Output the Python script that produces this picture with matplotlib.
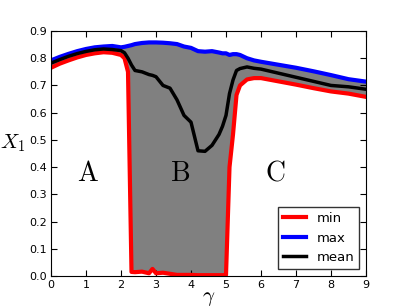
import matplotlib
matplotlib.use("Agg")
from matplotlib import pyplot as plt

# gamma grid (non-uniform, denser where the curves jump)
gamma = [0, 0.25, 0.5, 0.75, 1.0, 1.25, 1.5, 1.75, 2.0, 2.1, 2.2, 2.3, 2.4, 2.6,
         2.8, 2.9, 3.0, 3.2, 3.4, 3.6, 3.8, 4.0, 4.2, 4.4, 4.6, 4.8, 4.9, 5.0,
         5.1, 5.2, 5.3, 5.4, 5.6, 5.8, 6.0, 6.5, 7.0, 7.5, 8.0, 8.5, 9.0]

x_min = [0.765, 0.780, 0.792, 0.803, 0.812, 0.818, 0.822, 0.820, 0.812, 0.800,
         0.750, 0.015, 0.014, 0.016, 0.010, 0.026, 0.010, 0.012, 0.008, 0.004,
         0.004, 0.004, 0.003, 0.003, 0.003, 0.003, 0.003, 0.004, 0.400, 0.520,
         0.665, 0.700, 0.722, 0.727, 0.727, 0.715, 0.703, 0.690, 0.678, 0.670,
         0.658]

x_max = [0.792, 0.805, 0.816, 0.826, 0.834, 0.840, 0.843, 0.845, 0.840, 0.842,
         0.845, 0.848, 0.852, 0.856, 0.858, 0.858, 0.858, 0.857, 0.855, 0.852,
         0.843, 0.838, 0.826, 0.824, 0.826, 0.821, 0.818, 0.818, 0.812, 0.815,
         0.815, 0.812, 0.800, 0.792, 0.787, 0.776, 0.765, 0.752, 0.738, 0.723,
         0.714]

x_mean = [0.782, 0.795, 0.807, 0.817, 0.825, 0.831, 0.834, 0.832, 0.828, 0.820,
          0.800, 0.775, 0.755, 0.750, 0.740, 0.737, 0.732, 0.700, 0.690, 0.647,
          0.590, 0.565, 0.460, 0.458, 0.480, 0.520, 0.550, 0.590, 0.670, 0.720,
          0.755, 0.762, 0.768, 0.763, 0.760, 0.745, 0.730, 0.715, 0.700, 0.695,
          0.686]

plt.rcParams["mathtext.fontset"] = "cm"

fig = plt.figure(figsize=(4.07, 3.07), dpi=100)
ax = fig.add_axes([0.1253, 0.101, 0.774, 0.798])

ax.fill_between(gamma, x_min, x_max, color="#808080", lw=0)
ax.plot(gamma, x_min, color="red", lw=3, label="min")
ax.plot(gamma, x_max, color="blue", lw=3, label="max")
ax.plot(gamma, x_mean, color="black", lw=2.5, label="mean")

ax.set_xlim(0, 9)
ax.set_ylim(0, 0.9)
ax.set_xticks(range(10))
ax.set_yticks([i / 10 for i in range(10)])
ax.set_yticklabels(["%.1f" % (i / 10) for i in range(10)])
ax.tick_params(direction="in", top=True, right=True, labelsize=8, length=4, pad=3)

ax.text(1.06, 0.38, r"$\mathrm{A}$", fontsize=20, ha="center", va="center")
ax.text(3.69, 0.38, r"$\mathrm{B}$", fontsize=20, ha="center", va="center")
ax.text(6.4, 0.38, r"$\mathrm{C}$", fontsize=20, ha="center", va="center")

ax.set_xlabel(r"$\gamma$", fontsize=15)
ax.xaxis.set_label_coords(0.5, -0.05)
ax.set_ylabel(r"$X_1$", fontsize=15, rotation=0, labelpad=12)

leg = ax.legend(loc="lower right", fontsize=9.5, fancybox=False, handlelength=1.7,
                borderaxespad=0.5)
leg.get_frame().set_edgecolor("black")

fig.savefig("out.png", dpi=100)
